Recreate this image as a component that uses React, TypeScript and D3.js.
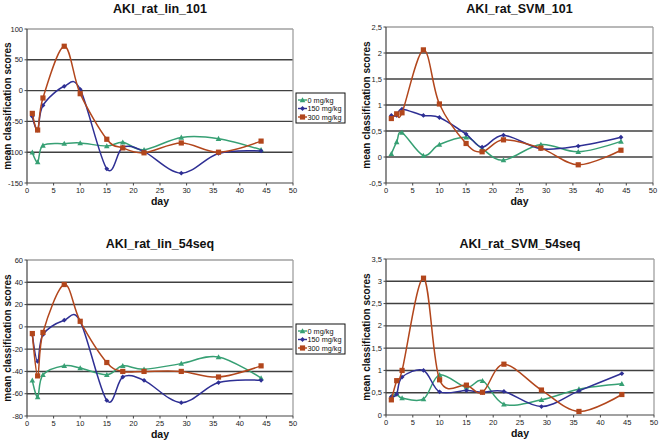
import React from "react";
import * as d3 from "d3";

const days = [1, 2, 3, 7, 10, 15, 18, 22, 29, 36, 44];
const seriesNames = ["0 mg/kg", "150 mg/kg", "300 mg/kg"];
const seriesColors = ["#37a074", "#2e2f94", "#b2461c"];
const xTicks = [0, 5, 10, 15, 20, 25, 30, 35, 40, 45, 50];

// AKI_rat_lin_101
const lin101_0 = [-100, -116, -89, -86, -85, -90, -84, -96, -76, -78, -96];
const lin101_150 = [-42, -64, -24, 7, 2, -127, -92, -99, -134, -102, -98];
const lin101_300 = [-37, -64, -12, 72, -5, -79, -93, -101, -85, -100, -82];
const lin101Ticks = [-150, -100, -50, 0, 50, 100];

// AKI_rat_SVM_101
const svm101_0 = [0.06, 0.29, 0.47, 0.03, 0.24, 0.38, 0.16, -0.06, 0.24, 0.1, 0.3];
const svm101_150 = [0.8, 0.8, 0.92, 0.8, 0.76, 0.44, 0.19, 0.42, 0.16, 0.21, 0.38];
const svm101_300 = [0.74, 0.83, 0.85, 2.06, 1.02, 0.26, 0.1, 0.33, 0.17, -0.15, 0.13];
const svm101Ticks = [-0.5, 0, 0.5, 1, 1.5, 2, 2.5];

// AKI_rat_lin_54seq
const lin54_0 = [-48, -63, -43, -35, -37, -43, -35, -38, -33, -27, -46];
const lin54_150 = [-7, -31, -7, 6, 5, -66, -45, -48, -68, -50, -48];
const lin54_300 = [-6, -44, -5, 38, 5, -32, -40, -40, -40, -45, -35];
const lin54Ticks = [-80, -60, -40, -20, 0, 20, 40, 60];

// AKI_rat_SVM_54seq
const svm54_0 = [0.41, 0.47, 0.38, 0.36, 0.9, 0.62, 0.77, 0.24, 0.34, 0.58, 0.7];
const svm54_150 = [0.41, 0.47, 0.85, 1.0, 0.52, 0.55, 0.51, 0.53, 0.19, 0.54, 0.93];
const svm54_300 = [0.34, 0.77, 1.0, 3.07, 0.79, 0.67, 0.51, 1.14, 0.56, 0.08, 0.46];
const svm54Ticks = [0, 0.5, 1, 1.5, 2, 2.5, 3, 3.5];

const FONT = "'Liberation Sans', Arial, sans-serif";

type PanelProps = {
  title: string;
  titleY: number;
  left: number;
  right: number;
  top: number;
  bottom: number;
  yTicks: number[];
  series: number[][];
  comma?: boolean;
};

function Marker({ kind, x, y, color }: { kind: number; x: number; y: number; color: string }) {
  if (kind === 0) {
    const s = 2.8;
    return <path d={`M${x},${y - s}L${x + s},${y + s * 0.8}L${x - s},${y + s * 0.8}Z`} fill={color} />;
  }
  if (kind === 1) {
    const s = 2.4;
    return <path d={`M${x},${y - s}L${x + s},${y}L${x},${y + s}L${x - s},${y}Z`} fill={color} />;
  }
  return <rect x={x - 2.6} y={y - 2.6} width={5.2} height={5.2} fill={color} />;
}

function Panel({ title, titleY, left, right, top, bottom, yTicks, series, comma }: PanelProps) {
  const x = d3.scaleLinear().domain([0, 50]).range([left, right]);
  const y = d3
    .scaleLinear()
    .domain([yTicks[0], yTicks[yTicks.length - 1]])
    .range([bottom, top]);
  const fmt = (v: number) => (comma ? String(v).replace(".", ",") : String(v));
  const line = d3
    .line<number>()
    .x((_, i) => x(days[i]))
    .y((v) => y(v))
    .curve(d3.curveCardinal.tension(0));
  const cx = (left + right) / 2;
  const cy = (top + bottom) / 2;
  return (
    <g>
      <text x={cx} y={titleY} textAnchor="middle" fontFamily={FONT} fontWeight="bold" fontSize={12.5} fill="#111">
        {title}
      </text>
      <rect x={left} y={top} width={right - left} height={bottom - top} fill="#fff" />
      {yTicks.slice(1, -1).map((t) => (
        <line key={t} x1={left} x2={right} y1={y(t)} y2={y(t)} stroke="#404040" strokeWidth={1.4} />
      ))}
      <line x1={left} x2={right} y1={top} y2={top} stroke="#a0a0a0" strokeWidth={1.3} />
      <line x1={right} x2={right} y1={top} y2={bottom} stroke="#a0a0a0" strokeWidth={1.3} />
      <line x1={left} x2={left} y1={top} y2={bottom} stroke="#444" strokeWidth={1.2} />
      <line x1={left} x2={right} y1={bottom} y2={bottom} stroke="#444" strokeWidth={1.2} />
      {yTicks.map((t) => (
        <g key={t}>
          <line x1={left - 2.5} x2={left} y1={y(t)} y2={y(t)} stroke="#444" />
          <text x={left - 4} y={y(t) + 2.5} textAnchor="end" fontFamily={FONT} fontSize={7.5} fill="#222">
            {fmt(t)}
          </text>
        </g>
      ))}
      {xTicks.map((t) => (
        <g key={t}>
          <line x1={x(t)} x2={x(t)} y1={bottom} y2={bottom + 2.5} stroke="#444" />
          <text x={x(t)} y={bottom + 10} textAnchor="middle" fontFamily={FONT} fontSize={7.5} fill="#222">
            {t}
          </text>
        </g>
      ))}
      <text x={cx} y={bottom + 21.5} textAnchor="middle" fontFamily={FONT} fontWeight="bold" fontSize={10.5} fill="#111">
        day
      </text>
      <text
        transform={`translate(${left - 16},${cy}) rotate(-90)`}
        textAnchor="middle"
        fontFamily={FONT}
        fontWeight="bold"
        fontSize={10}
        fill="#111"
      >
        mean classification scores
      </text>
      {series.map((s, k) => (
        <g key={k}>
          <path d={line(s) || ""} fill="none" stroke={seriesColors[k]} strokeWidth={1.5} />
          {s.map((v, i) => (
            <Marker key={i} kind={k} x={x(days[i])} y={y(v)} color={seriesColors[k]} />
          ))}
        </g>
      ))}
    </g>
  );
}

function Legend({ x0, y0 }: { x0: number; y0: number }) {
  return (
    <g>
      <rect x={x0} y={y0} width={49} height={30} fill="#fff" stroke="#111" strokeWidth={1} />
      {seriesNames.map((n, k) => {
        const yy = y0 + 7 + k * 8.5;
        return (
          <g key={n}>
            <line x1={x0 + 2} x2={x0 + 11} y1={yy} y2={yy} stroke={seriesColors[k]} strokeWidth={1.4} />
            <Marker kind={k} x={x0 + 6.5} y={yy} color={seriesColors[k]} />
            <text x={x0 + 11.5} y={yy + 2.5} fontFamily={FONT} fontSize={7.3} fill="#111">
              {n}
            </text>
          </g>
        );
      })}
    </g>
  );
}

export default function App() {
  return (
    <svg width={662} height={441} style={{ position: "absolute", left: 0, top: 0, background: "#fff" }}>
      <rect x={0} y={0} width={662} height={441} fill="#fff" />
      <Panel title="AKI_rat_lin_101" titleY={13} left={27} right={293} top={29} bottom={183} yTicks={lin101Ticks} series={[lin101_0, lin101_150, lin101_300]} />
      <Panel title="AKI_rat_SVM_101" titleY={13} left={386} right={653} top={27} bottom={183} yTicks={svm101Ticks} series={[svm101_0, svm101_150, svm101_300]} comma />
      <Panel title="AKI_rat_lin_54seq" titleY={248} left={27} right={293} top={260} bottom={416} yTicks={lin54Ticks} series={[lin54_0, lin54_150, lin54_300]} />
      <Panel title="AKI_rat_SVM_54seq" titleY={248} left={386} right={654} top={259} bottom={415} yTicks={svm54Ticks} series={[svm54_0, svm54_150, svm54_300]} comma />
      <Legend x0={296} y0={93} />
      <Legend x0={296} y0={324} />
    </svg>
  );
}
